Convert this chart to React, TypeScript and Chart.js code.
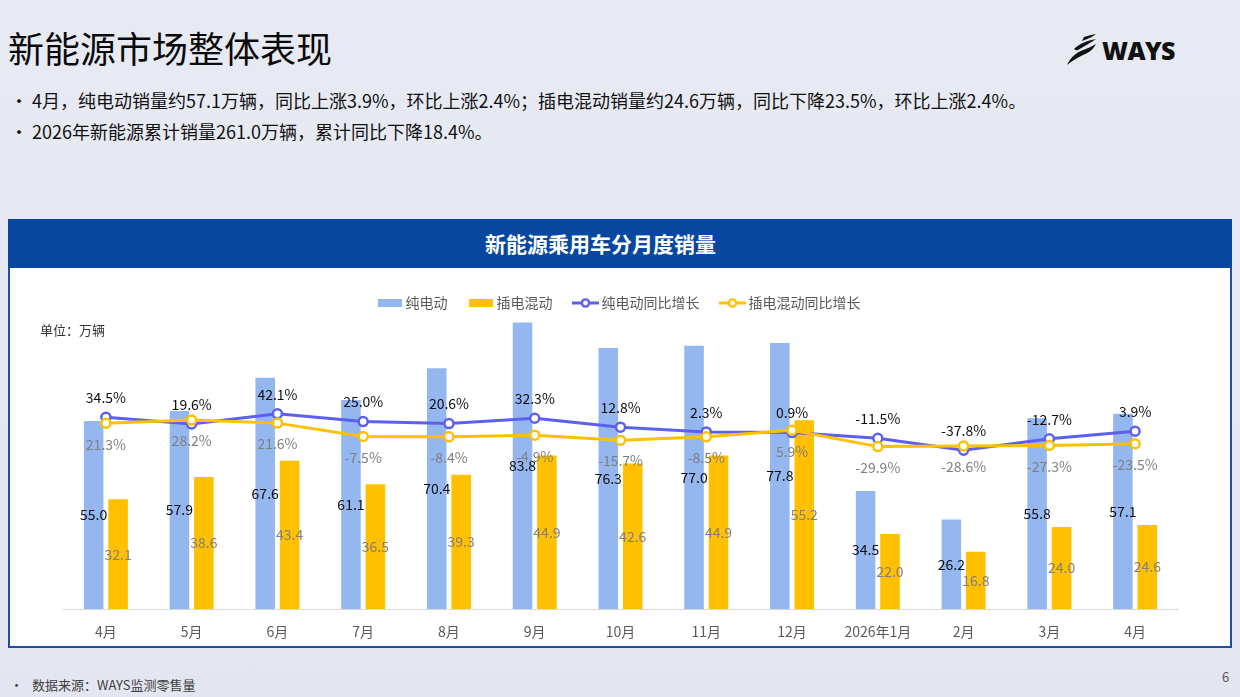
import React, { useEffect, useRef } from 'react';
import { Chart, registerables } from 'chart.js';

Chart.register(...registerables);

const FONT = '"Noto Sans CJK SC", "Noto Sans", sans-serif';

// Monthly NEV passenger-car sales (10k units) and year-on-year growth (%)
const months = ['4月', '5月', '6月', '7月', '8月', '9月', '10月', '11月', '12月', '2026年1月', '2月', '3月', '4月'];
const bevSales = [55.0, 57.9, 67.6, 61.1, 70.4, 83.8, 76.3, 77.0, 77.8, 34.5, 26.2, 55.8, 57.1];
const phevSales = [32.1, 38.6, 43.4, 36.5, 39.3, 44.9, 42.6, 44.9, 55.2, 22.0, 16.8, 24.0, 24.6];
const bevYoY = [34.5, 19.6, 42.1, 25.0, 20.6, 32.3, 12.8, 2.3, 0.9, -11.5, -37.8, -12.7, 3.9];
const phevYoY = [21.3, 28.2, 21.6, -7.5, -8.4, -4.9, -15.7, -8.5, 5.9, -29.9, -28.6, -27.3, -23.5];
const seriesNames = ['纯电动', '插电混动', '纯电动同比增长', '插电混动同比增长'];

const BLUE_BAR = '#95b7ef';
const GOLD = '#ffc000';
const BLUE_LINE = '#5d5ff0';

// label colour and vertical offset for each dataset (bars: centred in the bar)
const labelStyles = [
  { color: '#0d0d0d', dy: 0, suffix: '' },
  { color: '#7f7f7f', dy: 0, suffix: '' },
  { color: '#0d0d0d', dy: -19.5, suffix: '%' },
  { color: '#7f7f7f', dy: 21, suffix: '%' },
];

const valueLabels = {
  id: 'valueLabels',
  afterDatasetsDraw(chart: any) {
    const ctx = chart.ctx;
    ctx.save();
    ctx.font = `14px ${FONT}`;
    ctx.textAlign = 'center';
    ctx.textBaseline = 'middle';
    chart.data.datasets.forEach((ds: any, i: number) => {
      const meta = chart.getDatasetMeta(i);
      const st = labelStyles[i];
      meta.data.forEach((el: any, j: number) => {
        const v = ds.data[j] as number;
        const y = meta.type === 'bar' ? (el.y + el.base) / 2 : el.y + st.dy;
        ctx.fillStyle = st.color;
        ctx.fillText(v.toFixed(1) + st.suffix, el.x, y);
      });
    });
    ctx.restore();
  },
};

function barSwatch(color: string) {
  const c = document.createElement('canvas');
  c.width = 24;
  c.height = 8;
  const g = c.getContext('2d')!;
  g.fillStyle = color;
  g.fillRect(0, 0, 24, 8);
  return c;
}

function lineSwatch(color: string) {
  const c = document.createElement('canvas');
  c.width = 27;
  c.height = 12;
  const g = c.getContext('2d')!;
  g.strokeStyle = color;
  g.lineWidth = 3;
  g.beginPath();
  g.moveTo(0, 6);
  g.lineTo(27, 6);
  g.stroke();
  g.beginPath();
  g.arc(13.5, 6, 3.6, 0, Math.PI * 2);
  g.fillStyle = '#ffffff';
  g.fill();
  g.lineWidth = 2.4;
  g.stroke();
  return c;
}

function SalesChart() {
  const ref = useRef<HTMLCanvasElement>(null);

  useEffect(() => {
    if (!ref.current) return;
    Chart.defaults.font.family = FONT;
    const swatches = [barSwatch(BLUE_BAR), barSwatch(GOLD), lineSwatch(BLUE_LINE), lineSwatch(GOLD)];

    const chart = new Chart(ref.current, {
      type: 'bar',
      data: {
        labels: months,
        datasets: [
          {
            type: 'bar',
            label: seriesNames[0],
            data: bevSales,
            backgroundColor: BLUE_BAR,
            yAxisID: 'y',
            order: 2,
            categoryPercentage: 0.57,
            barPercentage: 0.8,
          },
          {
            type: 'bar',
            label: seriesNames[1],
            data: phevSales,
            backgroundColor: GOLD,
            yAxisID: 'y',
            order: 3,
            categoryPercentage: 0.57,
            barPercentage: 0.8,
          },
          {
            type: 'line',
            label: seriesNames[2],
            data: bevYoY,
            borderColor: BLUE_LINE,
            backgroundColor: '#ffffff',
            borderWidth: 3,
            pointRadius: 4.5,
            pointBorderWidth: 2.5,
            pointBackgroundColor: '#ffffff',
            pointBorderColor: BLUE_LINE,
            yAxisID: 'y1',
            order: 1,
            tension: 0,
          },
          {
            type: 'line',
            label: seriesNames[3],
            data: phevYoY,
            borderColor: GOLD,
            backgroundColor: '#ffffff',
            borderWidth: 3,
            pointRadius: 4.5,
            pointBorderWidth: 2.5,
            pointBackgroundColor: '#ffffff',
            pointBorderColor: GOLD,
            yAxisID: 'y1',
            order: 0,
            tension: 0,
          },
        ],
      },
      options: {
        responsive: false,
        animation: false,
        layout: { padding: { top: 4, left: 53, right: 52, bottom: 4 } },
        plugins: {
          tooltip: { enabled: false },
          legend: {
            position: 'top',
            labels: {
              usePointStyle: true,
              pointStyleWidth: 18,
              padding: 24,
              color: '#595959',
              font: { size: 14, family: FONT },
              sort: (a: any, b: any) => a.datasetIndex - b.datasetIndex,
              generateLabels: (chart: any) => {
                const items = Chart.defaults.plugins.legend.labels.generateLabels(chart);
                return items.map((it: any) => ({ ...it, pointStyle: swatches[it.datasetIndex] }));
              },
            },
          },
        },
        scales: {
          x: {
            grid: { display: false, drawTicks: false },
            border: { display: true, color: '#d9d9d9', width: 1 },
            ticks: {
              padding: 14,
              color: '#595959',
              font: { size: 14, family: FONT },
              maxRotation: 0,
              autoSkip: false,
            },
          },
          y: { display: false, min: 0, max: 84.5 },
          y1: { display: false, min: -386.2, max: 247.6 },
        },
      },
      plugins: [valueLabels],
    } as any);

    return () => chart.destroy();
  }, []);

  return (
    <canvas
      ref={ref}
      width={1220}
      height={390}
      style={{ position: 'absolute', left: 0, top: 47, width: 1220, height: 390 }}
    />
  );
}

function Logo() {
  return (
    <div style={{ position: 'absolute', left: 1066, top: 34, height: 32, display: 'flex', alignItems: 'center' }}>
      <svg width="32" height="32" viewBox="0 0 32 32">
        <path d="M18 3 C 22 1.5, 26 0.5, 30 0 C 27 2.5, 23 4.5, 16 7 Z" fill="#111" />
        <path d="M8 15 C 13 10, 21 6.5, 30 5 C 25 9, 18 12, 12 16 C 10 16.5, 9 16, 8 15 Z" fill="#111" />
        <path d="M1 31 C 4 24, 10 19, 16 16.5 C 21 14.5, 26 12.5, 30 10 C 27 16, 22 19, 15 22 C 10 24.5, 5 27.5, 1 31 Z" fill="#111" />
      </svg>
      <span
        style={{
          marginLeft: 4,
          fontFamily: '"Open Sans", "Lato", sans-serif',
          fontWeight: 800,
          fontSize: 25,
          letterSpacing: -0.6,
          color: '#111',
          lineHeight: '32px',
        }}
      >
        WAYS
      </span>
    </div>
  );
}

export default function App() {
  const text: React.CSSProperties = { position: 'absolute', whiteSpace: 'nowrap' };
  return (
    <div
      style={{
        position: 'fixed',
        left: 0,
        top: 0,
        width: 1240,
        height: 697,
        overflow: 'hidden',
        background: 'linear-gradient(180deg, #e8eaf3 0%, #e3e6f1 100%)',
        fontFamily: FONT,
        color: '#111',
      }}
    >
      <div style={{ ...text, left: 8, top: 28, fontSize: 36, lineHeight: '38px', color: '#0a0a0a' }}>新能源市场整体表现</div>
      <Logo />

      <div style={{ ...text, left: 10, top: 90, fontSize: 18, lineHeight: '20px' }}>•</div>
      <div style={{ ...text, left: 32, top: 90, fontSize: 18, lineHeight: '20px' }}>
        4月，纯电动销量约57.1万辆，同比上涨3.9%，环比上涨2.4%；插电混动销量约24.6万辆，同比下降23.5%，环比上涨2.4%。
      </div>
      <div style={{ ...text, left: 10, top: 121, fontSize: 18, lineHeight: '20px' }}>•</div>
      <div style={{ ...text, left: 32, top: 121, fontSize: 18, lineHeight: '20px' }}>
        2026年新能源累计销量261.0万辆，累计同比下降18.4%。
      </div>

      <div
        style={{
          position: 'absolute',
          left: 8,
          top: 219,
          width: 1224,
          height: 429,
          boxSizing: 'border-box',
          border: '2px solid #1d4fa6',
          background: '#ffffff',
        }}
      >
        <div
          style={{
            position: 'absolute',
            left: -2,
            top: -2,
            width: 1224,
            height: 49,
            background: '#0747a0',
          }}
        >
          <div
            style={{
              ...text,
              left: 477,
              top: 0,
              color: '#ffffff',
              fontSize: 21,
              fontWeight: 700,
              lineHeight: '49px',
            }}
          >
            新能源乘用车分月度销量
          </div>
        </div>
        <div style={{ position: 'absolute', left: 0, top: 0 }}>
          <SalesChart />
        </div>
        <div style={{ ...text, left: 30, top: 101, fontSize: 13, lineHeight: '16px', color: '#333' }}>单位：万辆</div>
      </div>

      <div style={{ ...text, left: 10, top: 677, fontSize: 13, lineHeight: '16px', color: '#404040' }}>•</div>
      <div style={{ ...text, left: 32, top: 677, fontSize: 13, lineHeight: '16px', color: '#404040' }}>数据来源：WAYS监测零售量</div>
      <div style={{ ...text, left: 1222, top: 669, fontSize: 13, lineHeight: '16px', color: '#595959' }}>6</div>
    </div>
  );
}
